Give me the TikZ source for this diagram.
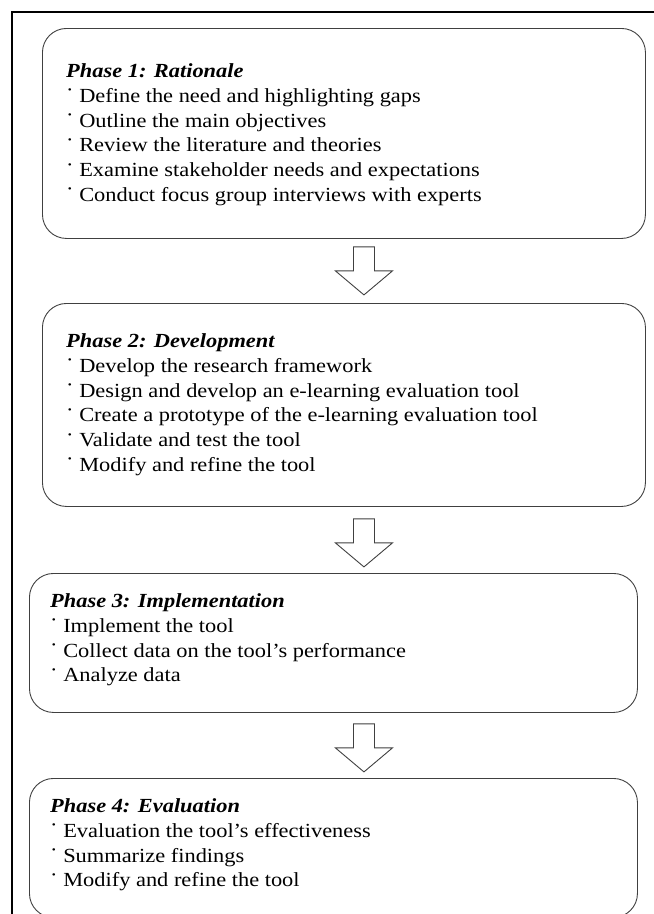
\documentclass[tikz,border=0pt]{standalone}
\usepackage{fontspec}
\setmainfont[FakeStretch=1.12]{Liberation Serif}
\usepackage{tikz}
\usetikzlibrary{positioning,calc}
\newcommand{\phbul}{\raisebox{0.28em}{·}\ }

\begin{document}
\begin{tikzpicture}[
    x=1pt, y=-1pt,
    phase/.style={draw=black!75, line width=0.9pt, rounded corners=24pt, anchor=north west, inner sep=0pt},
    phasetext/.style={anchor=north west, align=left, inner sep=0pt, font=\fontsize{20}{24.8}\selectfont},
    frameline/.style={line width=1.2pt},
    downarrow/.pic={\draw[draw=black!75, line width=0.9pt, fill=white]
        (-10.5,0) -- (-10.5,24) -- (-28.5,24) -- (0,48) -- (28.5,24) -- (10.5,24) -- (10.5,0) -- cycle;}
]
\useasboundingbox (0,0) rectangle (654,914);
\clip (0,0) rectangle (654,914);

% outer frame
\draw[frameline] (12,920) -- (12,12) -- (660,12);

% Phase 1
\node[phase, minimum width=603pt, minimum height=210pt] (p1) at (42,28) {};
\node[phasetext] (t1) at (66,63.5) {\textbf{\textit{Phase 1: Rationale}}\\
    \phbul Define the need and highlighting gaps\\
    \phbul Outline the main objectives\\
    \phbul Review the literature and theories\\
    \phbul Examine stakeholder needs and expectations\\
    \phbul Conduct focus group interviews with experts};

% Phase 2
\node[phase, minimum width=603pt, minimum height=203pt] (p2) at (42,303) {};
\node[phasetext] (t2) at (66,333.5) {\textbf{\textit{Phase 2: Development}}\\
    \phbul Develop the research framework\\
    \phbul Design and develop an e-learning evaluation tool\\
    \phbul Create a prototype of the e-learning evaluation tool\\
    \phbul Validate and test the tool\\
    \phbul Modify and refine the tool};

% Phase 3
\node[phase, minimum width=608pt, minimum height=139pt] (p3) at (29,573) {};
\node[phasetext] (t3) at (50,593.5) {\textbf{\textit{Phase 3: Implementation}}\\
    \phbul Implement the tool\\
    \phbul Collect data on the tool’s performance\\
    \phbul Analyze data};

% Phase 4
\node[phase, minimum width=608pt, minimum height=139pt] (p4) at (29,778) {};
\node[phasetext] (t4) at (50,798.5) {\textbf{\textit{Phase 4: Evaluation}}\\
    \phbul Evaluation the tool’s effectiveness\\
    \phbul Summarize findings\\
    \phbul Modify and refine the tool};

% arrows between phases
\pic at ([xshift=20pt, yshift=-8pt]p1.south) {downarrow};
\pic at ([xshift=20pt, yshift=-12pt]p2.south) {downarrow};
\pic at ([xshift=30.5pt, yshift=-11pt]p3.south) {downarrow};

\end{tikzpicture}
\end{document}
